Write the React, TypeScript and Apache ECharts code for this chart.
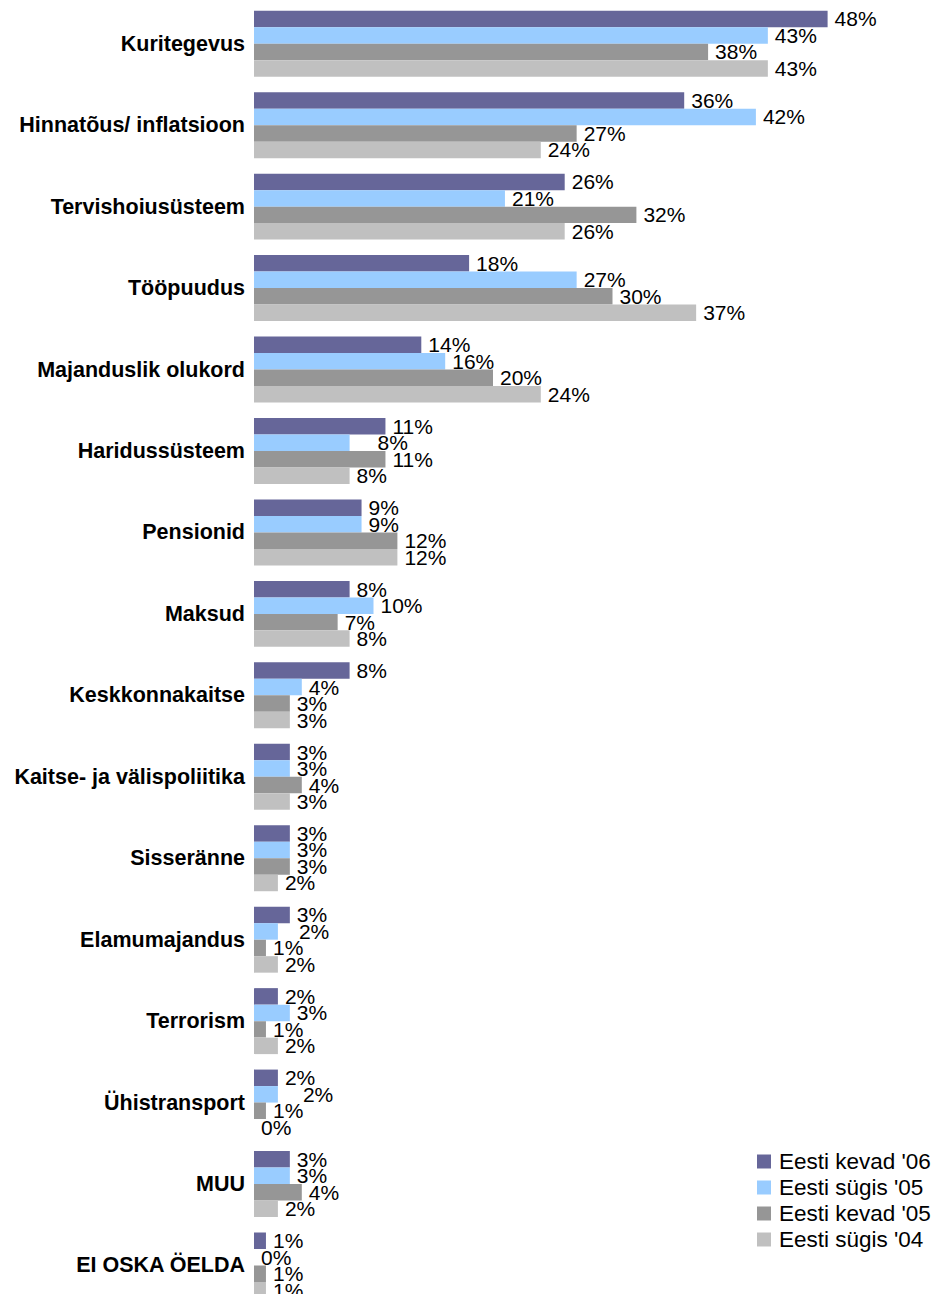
import React, { useEffect, useRef } from "react";
import * as echarts from "echarts";

const categories = [
  "Kuritegevus",
  "Hinnatõus/ inflatsioon",
  "Tervishoiusüsteem",
  "Tööpuudus",
  "Majanduslik olukord",
  "Haridussüsteem",
  "Pensionid",
  "Maksud",
  "Keskkonnakaitse",
  "Kaitse- ja välispoliitika",
  "Sisseränne",
  "Elamumajandus",
  "Terrorism",
  "Ühistransport",
  "MUU",
  "EI OSKA ÖELDA",
];

const seriesNames = ["Eesti kevad '06", "Eesti sügis '05", "Eesti kevad '05", "Eesti sügis '04"];

const kevad06 = [48, 36, 26, 18, 14, 11, 9, 8, 8, 3, 3, 3, 2, 2, 3, 1];
const sygis05 = [43, 42, 21, 27, 16, 8, 9, 10, 4, 3, 3, 2, 3, 2, 3, 0];
const kevad05 = [38, 27, 32, 30, 20, 11, 12, 7, 3, 4, 3, 1, 1, 1, 4, 1];
const sygis04 = [43, 24, 26, 37, 24, 8, 12, 8, 3, 3, 2, 2, 2, 0, 2, 1];

const seriesValues = [kevad06, sygis05, kevad05, sygis04];
const colors = ["#666699", "#99CCFF", "#969696", "#C0C0C0"];

// label nudges (series index -> category index -> extra x px), mimicking the original overlap shifts
const labelNudges: Record<number, Record<number, number>> = {
  1: { 5: 21, 11: 14, 13: 18 },
};

const FONT = "'Liberation Sans', Arial, Helvetica, sans-serif";

export default function App() {
  const ref = useRef<HTMLDivElement>(null);
  useEffect(() => {
    if (!ref.current) return;
    const chart = echarts.init(ref.current, undefined, { renderer: "svg" });
    const series = seriesValues.map((vals, si) => ({
      name: seriesNames[si],
      type: "bar",
      barGap: "0%",
      barCategoryGap: "18.97%",
      itemStyle: { color: colors[si] },
      label: {
        show: true,
        position: "right",
        distance: 7,
        formatter: "{c}%",
        color: "#000",
        fontFamily: FONT,
        fontSize: 21,
      },
      data: vals.map((v, ci) => {
        const dx = labelNudges[si] && labelNudges[si][ci];
        return dx ? { value: v, label: { offset: [dx, 0] } } : v;
      }),
    }));
    chart.setOption({
      animation: false,
      backgroundColor: "#ffffff",
      textStyle: { fontFamily: FONT },
      grid: {
        left: 254,
        top: 3,
        width: 597.5,
        height: 1303.2,
        containLabel: false,
        outerBoundsMode: "none",
      },
      legend: {
        orient: "vertical",
        left: 757,
        top: 1150,
        padding: 0,
        itemWidth: 14,
        itemHeight: 14,
        itemGap: 3,
        icon: "rect",
        data: seriesNames,
        textStyle: {
          fontFamily: FONT,
          fontSize: 22.5,
          lineHeight: 21,
          color: "#000",
          padding: [0, 0, 0, 3],
        },
      },
      xAxis: {
        type: "value",
        min: 0,
        max: 50,
        show: false,
        splitLine: { show: false },
      },
      yAxis: {
        type: "category",
        inverse: true,
        data: categories,
        axisLine: { show: false },
        axisTick: { show: false },
        axisLabel: {
          margin: 9,
          fontFamily: FONT,
          fontSize: 21.5,
          fontWeight: "bold",
          color: "#000",
        },
      },
      series,
    });
    return () => chart.dispose();
  }, []);
  return (
    <div
      ref={ref}
      style={{ position: "absolute", left: 0, top: 0, width: 944, height: 1294 }}
    />
  );
}
